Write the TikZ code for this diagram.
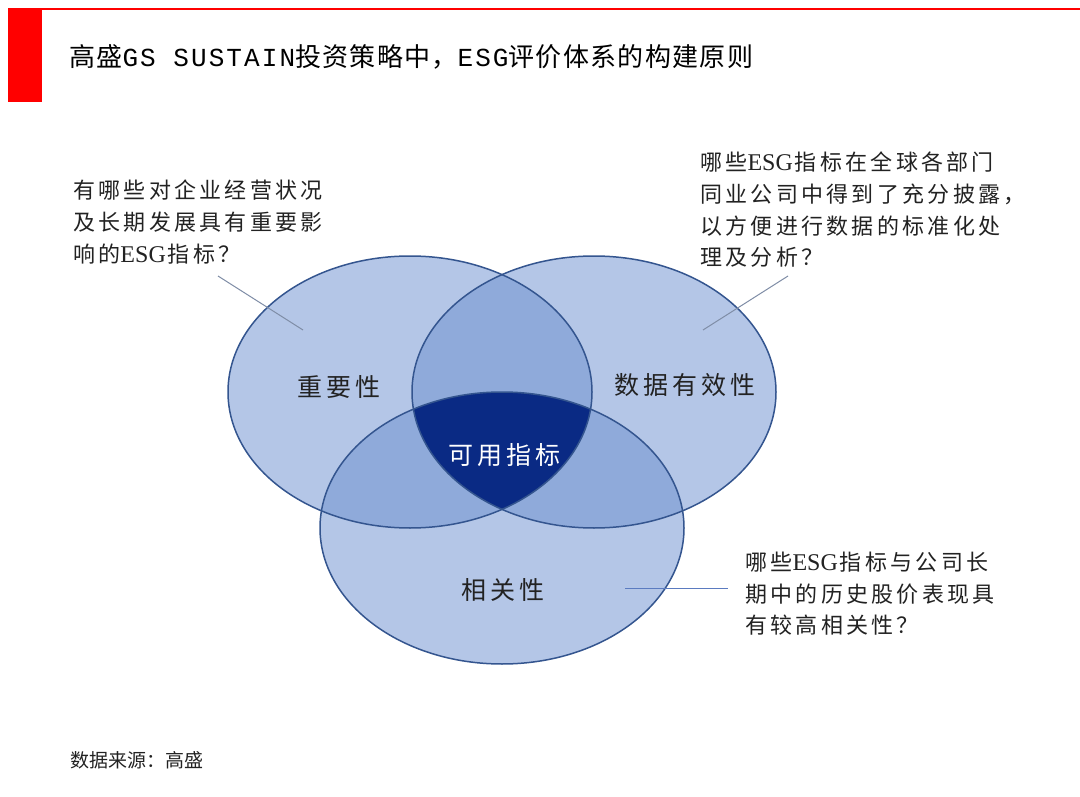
\documentclass[tikz,border=0pt]{standalone}
\usepackage{fontspec}
\usetikzlibrary{shapes.geometric}
\setmainfont{Noto Sans CJK SC}
\newfontfamily\cjkt[LetterSpace=5]{Noto Sans CJK SC}
\newfontfamily\latt[LetterSpace=8]{Liberation Mono}
\newfontfamily\qf[LetterSpace=15]{Noto Sans CJK SC}
\newfontfamily\lf[LetterSpace=16]{Noto Sans CJK SC}
\newfontfamily\lserif{Liberation Serif}
\newfontfamily\ff{Noto Sans CJK SC}
\newcommand{\esgtxt}{{\lserif\fontsize{24}{24}\selectfont ESG}\hspace{2pt}}
\definecolor{lightb}{HTML}{B4C6E7}
\definecolor{midb}{HTML}{8FAADA}
\definecolor{darkb}{HTML}{0A2A84}
\definecolor{edgeb}{HTML}{34558F}
\definecolor{leadg}{HTML}{7F8DA6}
\definecolor{leadb}{HTML}{5B7BC0}
\definecolor{txt}{HTML}{222222}
\definecolor{hdrred}{HTML}{FF0000}
\begin{document}
\begin{tikzpicture}[x=1pt,y=-1pt,
  vset/.style={ellipse, draw=edgeb, line width=1.5pt, minimum width=364pt, minimum height=272pt, inner sep=0pt},
  question/.style={align=left, anchor=north west, inner sep=0pt, text=txt, font=\qf\fontsize{22}{31.6}\selectfont},
  setlabel/.style={inner sep=0pt, text=txt, font=\lf\fontsize{25}{25}\selectfont},
  leader/.style={draw=leadg, line width=1pt},
  leaderb/.style={draw=leadb, line width=1.1pt}]
\useasboundingbox (0,0) rectangle (1080,797);
\fill[white] (0,0) rectangle (1080,797);
% header
\fill[hdrred] (8,8) rectangle (42,102);
\draw[hdrred, line width=1.6pt] (42,8.8) -- (1080,8.8);
\node[anchor=west, inner sep=0pt, text=black] (title) at (69,57)
  {\fontsize{26}{26}\selectfont\cjkt 高盛{\latt GS SUSTAIN}投资策略中，{\latt ESG}评价体系的构建原则};
% venn fills
\def\elA{(410,392) ellipse [x radius=182pt, y radius=136pt]}
\def\elB{(594,392) ellipse [x radius=182pt, y radius=136pt]}
\def\elC{(502,528) ellipse [x radius=182pt, y radius=136pt]}
\fill[lightb] \elA; \fill[lightb] \elB; \fill[lightb] \elC;
\begin{scope}\clip \elA; \fill[midb] \elB; \fill[midb] \elC;\end{scope}
\begin{scope}\clip \elB; \fill[midb] \elC;\end{scope}
\begin{scope}\clip \elA; \clip \elB; \fill[darkb] \elC;\end{scope}
% set outlines
\node[vset] (imp) at (410,392) {};
\node[vset] (dat) at (594,392) {};
\node[vset] (rel) at (502,528) {};
% labels
\node[setlabel] (limp) at (339,387) {重要性};
\node[setlabel] (ldat) at (685,385) {数据有效性};
\node[setlabel, text=white] (luse) at (504,455) {可用指标};
\node[setlabel] (lrel) at (503,590) {相关性};
% questions
\node[question] (q1) at (73,180) {有哪些对企业经营状况\\及长期发展具有重要影\\响的\esgtxt 指标？};
\node[question] (q2) at (700,152) {哪些\esgtxt 指标在全球各部门\\同业公司中得到了充分披露，\\以方便进行数据的标准化处\\理及分析？};
\node[question] (q3) at (745,552) {哪些\esgtxt 指标与公司长\\期中的历史股价表现具\\有较高相关性？};
% leaders
\coordinate (a1) at (218,276); \coordinate (a2) at (303,330);
\coordinate (b1) at (788,276); \coordinate (b2) at (703,330);
\coordinate (c1) at (625,588.5); \coordinate (c2) at (728,588.5);
\draw[leader] (a1) -- (a2);
\draw[leader] (b1) -- (b2);
\draw[leaderb] (c1) -- (c2);
% footer
\node[anchor=west, inner sep=0pt, text=txt] (src) at (70,760) {\ff\fontsize{19}{19}\selectfont 数据来源：高盛};
\end{tikzpicture}
\end{document}
